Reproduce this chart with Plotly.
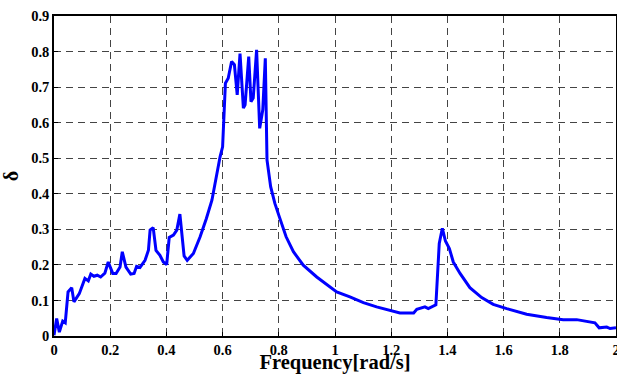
import plotly.graph_objects as go

freq = [0.0, 0.0095, 0.019, 0.031, 0.040, 0.050, 0.063, 0.071, 0.090, 0.110, 0.122, 0.131,
        0.142, 0.154, 0.166, 0.181, 0.193, 0.209, 0.221, 0.235, 0.243, 0.256, 0.273, 0.285,
        0.294, 0.306, 0.324, 0.336, 0.342, 0.353, 0.363, 0.377, 0.389, 0.401, 0.410, 0.425,
        0.437, 0.448, 0.463, 0.474, 0.496, 0.520, 0.542, 0.562, 0.591, 0.600, 0.610, 0.620,
        0.632, 0.642, 0.652, 0.662, 0.674, 0.680, 0.693, 0.701, 0.709, 0.721, 0.732, 0.743,
        0.752, 0.758, 0.771, 0.786, 0.802, 0.826, 0.852, 0.887, 0.935, 0.982, 1.006, 1.053,
        1.101, 1.148, 1.196, 1.231, 1.280, 1.291, 1.320, 1.332, 1.359, 1.371, 1.382, 1.393,
        1.407, 1.421, 1.445, 1.480, 1.522, 1.563, 1.611, 1.682, 1.753, 1.812, 1.860, 1.925,
        1.940, 1.967, 1.979, 2.0]
delta = [0.002, 0.049, 0.011, 0.042, 0.037, 0.124, 0.136, 0.096, 0.119, 0.162, 0.155, 0.174,
         0.168, 0.171, 0.166, 0.177, 0.208, 0.176, 0.176, 0.194, 0.237, 0.194, 0.174, 0.176,
         0.196, 0.193, 0.213, 0.241, 0.298, 0.305, 0.241, 0.227, 0.208, 0.201, 0.277, 0.284,
         0.298, 0.343, 0.225, 0.213, 0.232, 0.279, 0.330, 0.382, 0.504, 0.532, 0.711, 0.725,
         0.772, 0.763, 0.678, 0.794, 0.641, 0.650, 0.786, 0.659, 0.669, 0.805, 0.584, 0.636,
         0.781, 0.495, 0.420, 0.373, 0.335, 0.279, 0.237, 0.199, 0.166, 0.138, 0.124, 0.110,
         0.094, 0.082, 0.072, 0.065, 0.065, 0.075, 0.082, 0.077, 0.088, 0.260, 0.303, 0.267,
         0.246, 0.208, 0.176, 0.136, 0.108, 0.089, 0.077, 0.061, 0.052, 0.046, 0.046, 0.037,
         0.023, 0.025, 0.021, 0.023]

x_ticks = [0, 0.2, 0.4, 0.6, 0.8, 1, 1.2, 1.4, 1.6, 1.8, 2]
x_tick_labels = ["0", "0.2", "0.4", "0.6", "0.8", "1", "1.2", "1.4", "1.6", "1.8", "2"]
y_ticks = [0, 0.1, 0.2, 0.3, 0.4, 0.5, 0.6, 0.7, 0.8, 0.9]
y_tick_labels = ["0", "0.1", "0.2", "0.3", "0.4", "0.5", "0.6", "0.7", "0.8", "0.9"]

font = "Liberation Serif, Times New Roman, serif"

fig = go.Figure()
fig.add_trace(go.Scatter(x=freq, y=delta, mode="lines",
                         line=dict(color="#0000ff", width=3), showlegend=False))

axis_common = dict(
    showgrid=True, gridcolor="#444444", griddash="7px,5px", gridwidth=1,
    showline=True, linecolor="black", linewidth=1.5, mirror=True,
    ticks="inside", ticklen=4, tickcolor="black", zeroline=False,
    automargin=False, ticklabeloverflow="allow",
    tickfont=dict(family=font, size=14.5, color="black", weight="bold"),
)

fig.update_xaxes(range=[0, 2], tickvals=x_ticks, ticktext=x_tick_labels,
                 title=dict(text="<b>Frequency[rad/s]</b>", standoff=3,
                            font=dict(family=font, size=20.5, color="black")),
                 **axis_common)
fig.update_yaxes(range=[0, 0.9], tickvals=y_ticks, ticktext=y_tick_labels,
                 title=dict(text="<b>δ</b>", standoff=8,
                            font=dict(family=font, size=20, color="black")),
                 **axis_common)

fig.update_layout(width=617, height=374, margin=dict(l=54, r=1, t=16, b=38),
                  plot_bgcolor="white", paper_bgcolor="white")

fig.write_html("out.html", config={"responsive": False, "displayModeBar": False},
               post_script="document.body.style.margin='0';document.body.style.padding='0';"
                           "document.body.style.overflow='hidden';")
